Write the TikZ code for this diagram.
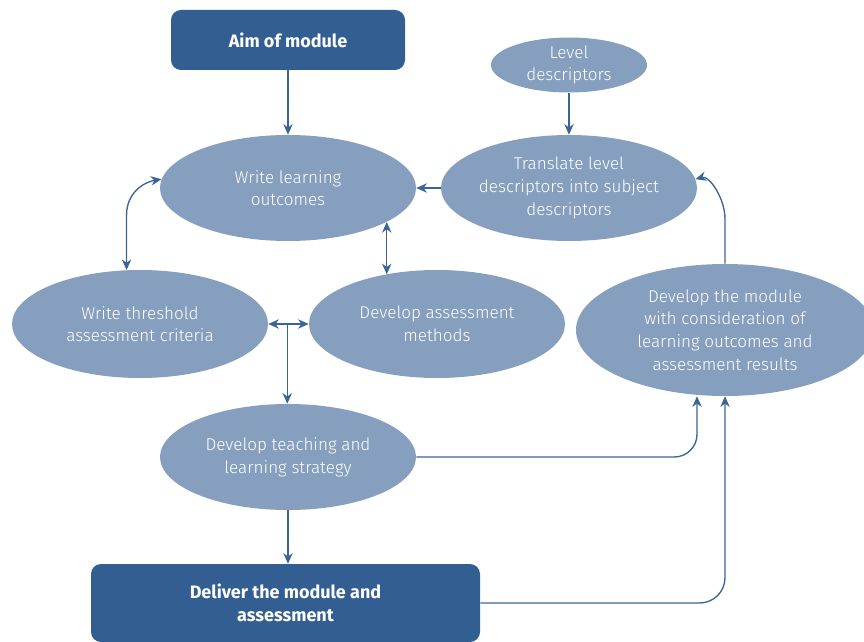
\documentclass[tikz,border=0pt]{standalone}
\usepackage{fontspec}
\setmainfont{Fira Sans Light}[BoldFont=Fira Sans Bold]
\usetikzlibrary{shapes.geometric,arrows.meta,calc}
\definecolor{ovalblue}{HTML}{869FBF}
\definecolor{boxblue}{HTML}{335E92}
\definecolor{linkblue}{HTML}{3A6497}

\begin{document}
\begin{tikzpicture}[x=0.75pt,y=-0.75pt,>={Stealth[length=8pt,width=7pt]},
  oval/.style={ellipse,fill=ovalblue,text=white,align=center,inner sep=0pt,font=\fontsize{12.8}{17}\selectfont},
  bigbox/.style={rounded corners=7.5pt,fill=boxblue,text=white,align=center,font=\bfseries\fontsize{13.5}{17}\selectfont},
  link/.style={draw=linkblue,line width=1pt}]
  \useasboundingbox (0,0) rectangle (864,642);
  % boxes
  \node[bigbox,minimum width=175.5pt,minimum height=45pt] (aim) at (288,40) {Aim of module};
  \node[bigbox,minimum width=291.75pt,minimum height=58.5pt] (dma) at (285.5,603) {Deliver the module and\\assessment};
  % ovals
  \node[oval,minimum width=117pt,minimum height=41.25pt] (lvl) at (569,65) {Level\\descriptors};
  \node[oval,minimum width=192pt,minimum height=79.5pt] (wlo) at (288,188) {Write learning\\outcomes};
  \node[oval,minimum width=192pt,minimum height=79.5pt] (tld) at (569,188) {Translate level\\descriptors into subject\\descriptors};
  \node[oval,minimum width=192pt,minimum height=81pt] (wtc) at (140,324) {Write threshold\\assessment criteria};
  \node[oval,minimum width=192pt,minimum height=81pt] (dam) at (437,324) {Develop assessment\\methods};
  \node[oval,minimum width=223.5pt,minimum height=99pt] (dmod) at (725,330) {Develop the module\\with consideration of\\learning outcomes and\\assessment results};
  \node[oval,minimum width=192pt,minimum height=79.5pt] (dts) at (288,457) {Develop teaching and\\learning strategy};
  % links
  \draw[link,->] (aim.south) -- (aim.south |- wlo.north);
  \draw[link,->] (lvl.south) -- (tld.north);
  \draw[link,->] (tld.west) -- (wlo.east);
  \draw[link,<->] (wtc.104) -- ++(0,-55) .. controls +(0,-22) and +(-18,3) .. (wlo.176);
  \draw[link,<->] (wlo.-19) -- (wlo.-19 |- dam.136);
  \coordinate (j) at ($(wtc.east)!0.47!(dam.west)$);
  \draw[link,<->] (wtc.east) -- (dam.west);
  \draw[link,->] (j) -- (j |- dts.north);
  \draw[link,->] (dts.south) -- (dts.south |- dma.north);
  \draw[link,->,rounded corners=17pt] (dts.east) -| ($(dmod.south)+(-28,0)$);
  \draw[link,->,rounded corners=19pt] (dma.east) -| (dmod.south);
  \draw[link,->] (dmod.north) -- ++(0,-45) .. controls +(0,-20) and +(14,-4) .. (tld.4);
\end{tikzpicture}
\end{document}
